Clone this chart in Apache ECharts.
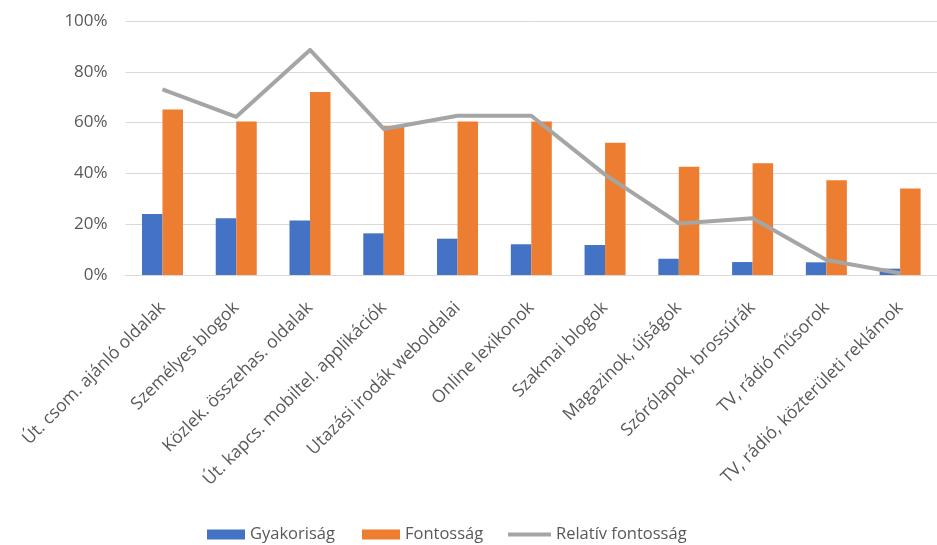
<!DOCTYPE html>
<html>
<head>
<meta charset="utf-8">
<script src="https://cdn.jsdelivr.net/npm/echarts@6/dist/echarts.min.js"></script>
<style>
  html, body { margin: 0; padding: 0; background: #fff; }
  #chart { width: 937px; height: 545px; }
</style>
</head>
<body>
<div id="chart"></div>
<script>
// Information sources for travel planning (share of respondents, %)
const categories = [
  'Út. csom. ajánló oldalak',
  'Személyes blogok',
  'Közlek. összehas. oldalak',
  'Út. kapcs. mobiltel. applikációk',
  'Utazási irodák weboldalai',
  'Online lexikonok',
  'Szakmai blogok',
  'Magazinok, újságok',
  'Szórólapok, brossúrák',
  'TV, rádió műsorok',
  'TV, rádió, közterületi reklámok'
];
const gyakorisag = [24, 22.3, 21.5, 16.4, 14.3, 12.1, 11.8, 6.4, 5.1, 5.0, 2.5];
const fontossag = [65.2, 60.4, 72.0, 58.8, 60.4, 60.4, 52.1, 42.6, 44.0, 37.3, 34.1];
const relativFontossag = [73.1, 62.3, 88.6, 57.5, 62.7, 62.7, 39.5, 20.3, 22.3, 5.9, 0.7];
const yTicks = [0, 20, 40, 60, 80, 100];

const FONT = 'Open Sans';
const TEXT = '#595959';

const chart = echarts.init(document.getElementById('chart'), null, { renderer: 'canvas' });

const legendText = { color: TEXT, fontFamily: FONT, fontSize: 16.5 };
const legendBase = { top: 526, padding: 0, textStyle: legendText, icon: 'rect' };

chart.setOption({
  animation: false,
  textStyle: { fontFamily: FONT },
  grid: { left: 125.6, right: -11.6, top: 21, bottom: 270, containLabel: false },
  legend: [
    Object.assign({ data: ['Gyakoriság'], left: 207, itemWidth: 38, itemHeight: 10 }, legendBase),
    Object.assign({ data: ['Fontosság'], left: 362, itemWidth: 38, itemHeight: 10 }, legendBase),
    Object.assign({ data: ['Relatív fontosság'], left: 508, itemWidth: 43, itemHeight: 4 }, legendBase)
  ],
  xAxis: {
    type: 'category',
    data: categories,
    axisLine: { lineStyle: { color: '#d9d9d9', width: 1 } },
    axisTick: { show: false },
    axisLabel: {
      rotate: 45,
      interval: 0,
      margin: 30,
      color: TEXT,
      fontFamily: FONT,
      fontSize: 17.5
    }
  },
  yAxis: {
    type: 'value',
    min: 0,
    max: 100,
    interval: 20,
    axisLine: { show: false },
    axisTick: { show: false },
    splitLine: { lineStyle: { color: '#d9d9d9', width: 1 } },
    axisLabel: {
      margin: 18,
      color: TEXT,
      fontFamily: FONT,
      fontSize: 17,
      formatter: function (v) { return yTicks.indexOf(v) >= 0 ? v + '%' : ''; }
    }
  },
  series: [
    {
      name: 'Gyakoriság',
      type: 'bar',
      data: gyakorisag,
      barWidth: 20.5,
      barGap: '0%',
      itemStyle: { color: '#4472C4' }
    },
    {
      name: 'Fontosság',
      type: 'bar',
      data: fontossag,
      barWidth: 20.5,
      barGap: '0%',
      itemStyle: { color: '#ED7D31' }
    },
    {
      name: 'Relatív fontosság',
      type: 'line',
      data: relativFontossag,
      symbol: 'none',
      lineStyle: { color: '#A5A5A5', width: 4, join: 'round' },
      itemStyle: { color: '#A5A5A5' },
      z: 3
    }
  ]
});
</script>
</body>
</html>
